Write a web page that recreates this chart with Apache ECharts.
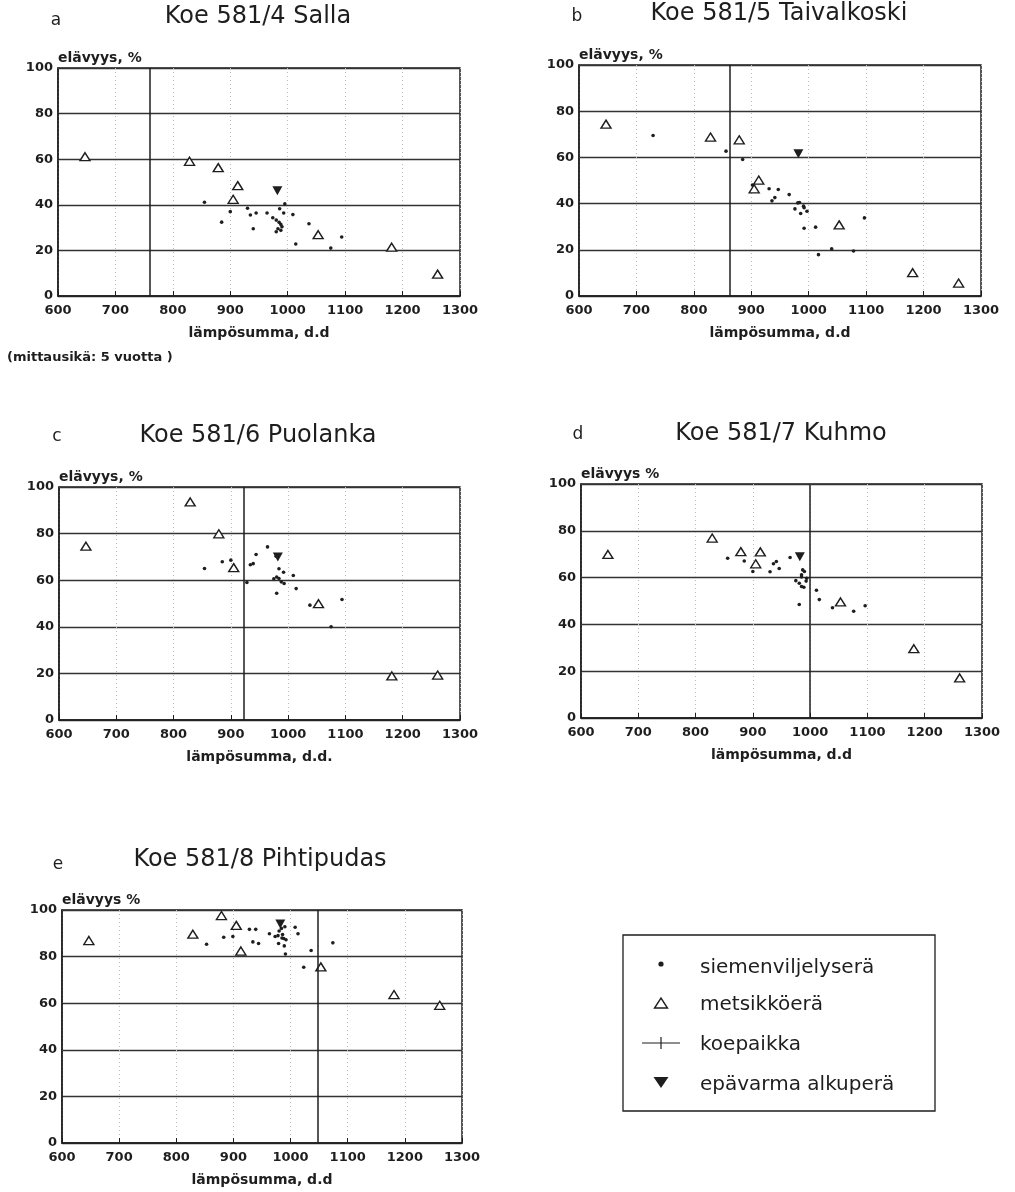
<!DOCTYPE html>
<html>
<head>
<meta charset="utf-8">
<script src="https://cdn.jsdelivr.net/npm/echarts@6/dist/echarts.min.js"></script>
<style>
  html, body { margin: 0; padding: 0; background: #fff; }
  #main { width: 1015px; height: 1192px; }
</style>
</head>
<body>
<div id="main"></div>
<script>
// x positions of the stand seed lots (metsikköerä), same in every trial
var standX = [647, 829, 879, 905, 913, 1053, 1181, 1261];
var uncertainX = 982;
var xTicks = [600, 700, 800, 900, 1000, 1100, 1200, 1300];
var yTicks = [0, 20, 40, 60, 80, 100];

// Koe 581/4 Salla
var sallaDots = [[855,41.1],[885,32.4],[900,37],[930,38.5],[935,35.5],[945,36.4],[940,29.5],[964,36.4],
  [974,34.3],[980,33.3],[985,32.3],[988,31.4],[990,30.4],[986,38.3],[993,36.4],[995,40.4],
  [983,29.5],[988,28.8],[980,28.2],[1009,35.7],[1014,22.8],[1037,31.7],[1075,21],[1094,25.9]];
var sallaStands = [61.1, 59.1, 56.3, 42.4, 48.4, 26.9, 21.4, 9.6];
var sallaUncertain = 46.2;
var sallaSite = 760;

// Koe 581/5 Taivalkoski
var taivDots = [[729,69.5],[856,62.7],[885,59.1],[902,48],[931,46.4],[947,46.1],[941,42.6],[936,41.2],
  [966,43.9],[981,40.3],[984,40.5],[976,37.7],[986,35.7],[991,38.9],[992,38.2],[997,36.7],
  [992,29.3],[1012,29.8],[1097,33.8],[1017,17.9],[1040,20.4],[1078,19.5]];
var taivStands = [74.4, 68.8, 67.6, 46.4, 50.2, 30.8, 10.1, 5.6];
var taivUncertain = 61.6;
var taivSite = 862;

// Koe 581/6 Puolanka
var puolDots = [[854,65],[885,67.9],[900,68.6],[928,59],[934,66.6],[939,67.1],[944,71],[964,74.3],
  [979,70.3],[984,64.9],[992,63.4],[975,60.6],[980,61.4],[984,60.7],[988,59.3],[993,58.6],
  [980,54.4],[1009,62],[1014,56.4],[1038,49.3],[1075,40],[1094,51.7]];
var puolStands = [74.6, 93.6, 79.9, 65.4, null, 49.9, 18.9, 19.3];
var puolUncertain = 70;
var puolSite = 923;

// Koe 581/7 Kuhmo
var kuhmoDots = [[856,68.3],[885,67.1],[900,62.6],[930,62.5],[936,65.9],[941,66.9],[946,63.9],[965,68.6],
  [987,63.3],[990,62.6],[985,61.2],[975,58.7],[981,57.6],[985,56.2],[989,55.9],[993,58.5],
  [994,59.7],[985,60.3],[981,48.5],[1011,54.6],[1016,50.6],[1039,47.1],[1076,45.6],[1096,48]];
var kuhmoStands = [69.9, 76.9, 71.1, 65.9, 71.0, 49.6, 29.6, 17.1];
var kuhmoUncertain = 68.9;
var kuhmoSite = 1000;

// Koe 581/8 Pihtipudas
var pihtiDots = [[853,85.3],[883,88.3],[899,88.6],[928,91.7],[939,91.7],[934,86.3],[944,85.6],[963,89.8],
  [973,88.6],[980,91],[984,92.1],[990,92.8],[978,89],[985,88],[988,87.8],[992,87.2],[986,89.5],
  [979,85.6],[989,84.6],[991,81.1],[1008,92.6],[1013,89.8],[1023,75.4],[1036,82.6],[1074,85.9]];
var pihtiStands = [86.9, 89.6, 97.6, 93.4, 82.4, 75.6, 63.7, 59.1];
var pihtiUncertain = 94;
var pihtiSite = 1047;

var legendNames = ['siemenviljelyserä', 'metsikköerä', 'koepaikka', 'epävarma alkuperä'];

var FONT = "'DejaVu Sans', sans-serif";
var INK = '#1e1e1e';

var panels = [
  { letter: 'a', title: 'Koe 581/4 Salla', yName: 'elävyys, %', xName: 'lämpösumma, d.d',
    dots: sallaDots, stands: sallaStands, uncertain: sallaUncertain, site: sallaSite,
    grid: { left: 58, top: 68, width: 402, height: 228 }, titleX: 258, titleY: 17, letterX: 56, letterY: 21 },
  { letter: 'b', title: 'Koe 581/5 Taivalkoski', yName: 'elävyys, %', xName: 'lämpösumma, d.d',
    dots: taivDots, stands: taivStands, uncertain: taivUncertain, site: taivSite,
    grid: { left: 579, top: 65, width: 402, height: 231 }, titleX: 779, titleY: 14, letterX: 577, letterY: 17 },
  { letter: 'c', title: 'Koe 581/6 Puolanka', yName: 'elävyys, %', xName: 'lämpösumma, d.d.',
    dots: puolDots, stands: puolStands, uncertain: puolUncertain, site: puolSite,
    grid: { left: 59, top: 487, width: 401, height: 233 }, titleX: 258, titleY: 436, letterX: 57, letterY: 437 },
  { letter: 'd', title: 'Koe 581/7 Kuhmo', yName: 'elävyys %', xName: 'lämpösumma, d.d',
    dots: kuhmoDots, stands: kuhmoStands, uncertain: kuhmoUncertain, site: kuhmoSite,
    grid: { left: 581, top: 484, width: 401, height: 234 }, titleX: 781, titleY: 434, letterX: 578, letterY: 435 },
  { letter: 'e', title: 'Koe 581/8 Pihtipudas', yName: 'elävyys %', xName: 'lämpösumma, d.d',
    dots: pihtiDots, stands: pihtiStands, uncertain: pihtiUncertain, site: pihtiSite,
    grid: { left: 62, top: 910, width: 400, height: 233 }, titleX: 260, titleY: 860, letterX: 58, letterY: 865 }
];

var grids = [], xAxes = [], yAxes = [], series = [], graphics = [];

panels.forEach(function (p, i) {
  grids.push({
    left: p.grid.left, top: p.grid.top, width: p.grid.width, height: p.grid.height,
    show: true, borderColor: INK, borderWidth: 1.5, backgroundColor: 'transparent'
  });
  xAxes.push({
    gridIndex: i, type: 'value', min: xTicks[0], max: xTicks[xTicks.length - 1], interval: 100,
    name: p.xName, nameLocation: 'middle', nameGap: 30,
    nameTextStyle: { fontFamily: FONT, fontWeight: 'bold', fontSize: 14, color: INK },
    axisLine: { lineStyle: { color: INK, width: 1.5 } },
    axisTick: { show: true, inside: true, length: 5, lineStyle: { color: INK } },
    axisLabel: { fontFamily: FONT, fontWeight: 'bold', fontSize: 13, color: INK, margin: 8,
                 formatter: function (v) { return String(v); } },
    splitLine: { show: true, lineStyle: { color: '#bbb', type: [1, 3], width: 1 } }
  });
  yAxes.push({
    gridIndex: i, type: 'value', min: yTicks[0], max: yTicks[yTicks.length - 1], interval: 20,
    name: p.yName, nameLocation: 'end', nameGap: 3,
    nameTextStyle: { fontFamily: FONT, fontWeight: 'bold', fontSize: 14, color: INK, align: 'left', verticalAlign: 'bottom' },
    axisLine: { lineStyle: { color: INK, width: 1.5 } },
    axisTick: { show: false },
    axisLabel: { fontFamily: FONT, fontWeight: 'bold', fontSize: 13, color: INK, margin: 5,
                 formatter: function (v) { return String(v); } },
    splitLine: { show: true, lineStyle: { color: '#333', width: 1.4 } }
  });

  var standData = [];
  standX.forEach(function (x, k) {
    if (p.stands[k] != null) standData.push([x, p.stands[k]]);
  });

  series.push({
    name: legendNames[2], type: 'line', xAxisIndex: i, yAxisIndex: i, data: [],
    color: INK,
    markLine: {
      silent: true, symbol: 'none', label: { show: false },
      lineStyle: { color: INK, width: 1.5, type: 'solid' },
      data: [{ xAxis: p.site }]
    }
  });
  series.push({
    name: legendNames[0], type: 'scatter', xAxisIndex: i, yAxisIndex: i,
    data: p.dots, symbol: 'circle', symbolSize: 3.6, itemStyle: { color: INK, opacity: 1 }
  });
  series.push({
    name: legendNames[1], type: 'scatter', xAxisIndex: i, yAxisIndex: i,
    data: standData, symbol: 'triangle', symbolSize: [10, 8],
    itemStyle: { color: '#fff', borderColor: INK, borderWidth: 1.4, opacity: 1 }
  });
  series.push({
    name: legendNames[3], type: 'scatter', xAxisIndex: i, yAxisIndex: i,
    data: [[uncertainX, p.uncertain]], symbol: 'triangle', symbolRotate: 180, symbolSize: [10, 9],
    itemStyle: { color: INK, opacity: 1 }
  });

  graphics.push({
    type: 'text', x: p.titleX, y: p.titleY,
    style: { text: p.title, font: '24px ' + FONT, fill: INK, align: 'center', verticalAlign: 'middle',
             textAlign: 'center', textVerticalAlign: 'middle' }
  });
  graphics.push({
    type: 'text', x: p.letterX, y: p.letterY,
    style: { text: p.letter, font: '17px ' + FONT, fill: INK, align: 'center', verticalAlign: 'middle',
             textAlign: 'center', textVerticalAlign: 'middle' }
  });
});

graphics.push({
  type: 'text', x: 7, y: 358,
  style: { text: '(mittausikä: 5 vuotta )', font: 'bold 13px ' + FONT, fill: INK,
           align: 'left', verticalAlign: 'middle', textAlign: 'left', textVerticalAlign: 'middle' }
});

// legend box with keys
var legendKeys = [
  { type: 'circle', shape: { cx: 661, cy: 964, r: 2.6 }, style: { fill: INK } },
  { type: 'polygon', shape: { points: [[654.5, 1008], [667.5, 1008], [661, 998]] },
    style: { fill: '#fff', stroke: INK, lineWidth: 1.4 } },
  { type: 'line', shape: { x1: 642, y1: 1043, x2: 680, y2: 1043 }, style: { stroke: INK, lineWidth: 1.2 } },
  { type: 'line', shape: { x1: 661, y1: 1037, x2: 661, y2: 1049 }, style: { stroke: INK, lineWidth: 1.2 } },
  { type: 'polygon', shape: { points: [[653.5, 1077], [668.5, 1077], [661, 1088]] }, style: { fill: INK } }
];
var legendTextY = [968, 1005, 1045, 1085];
var legendChildren = [{
  type: 'rect', shape: { x: 623, y: 935, width: 312, height: 176 },
  style: { fill: 'none', stroke: INK, lineWidth: 1.3 }
}].concat(legendKeys);
legendNames.forEach(function (n, k) {
  legendChildren.push({
    type: 'text', x: 700, y: legendTextY[k],
    style: { text: n, font: '20px ' + FONT, fill: INK, align: 'left', verticalAlign: 'middle',
             textAlign: 'left', textVerticalAlign: 'middle' }
  });
});
graphics.push({ type: 'group', children: legendChildren });

var chart = echarts.init(document.getElementById('main'), null, { renderer: 'canvas' });
chart.setOption({
  animation: false,
  backgroundColor: '#fff',
  grid: grids,
  xAxis: xAxes,
  yAxis: yAxes,
  graphic: graphics,
  series: series
});
</script>
</body>
</html>
